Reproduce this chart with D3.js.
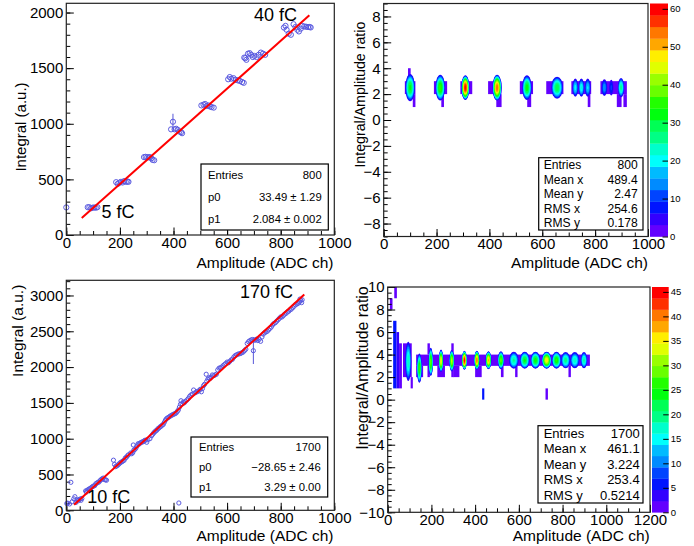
<!DOCTYPE html>
<html><head><meta charset="utf-8">
<script src="https://cdn.jsdelivr.net/npm/d3@7"></script>
<style>
body{margin:0;background:#fff}
svg{display:block;font-family:"Liberation Sans",Arial,Helvetica,sans-serif}
</style></head><body>
<svg id="c" width="694" height="546"></svg>
<script>
// ================= DATA =================
// Panel 1: Integral vs Amplitude (5 fC .. 40 fC)
const p1X = [0, 80,86,92,98,104,110,116, 186,192,198,204,210,216,222,228,232, 290,296,302,308,312,318,322,328,
  391,398,404,410,416,422,428,432, 504,512,518,524,530,536,542,550, 604,610,616,624,632,640,648,656,662,
  664,668,672,678,684,690,696,702,710,718,726,734,742, 812,818,822,830,838,848,855,862,868,875,880,888,895,902,908,912];
const p1Y = [248, 250,250,240,245,248,245,250, 475,460,470,478,472,485,478,480,478, 700,703,700,698,700,690,675,672,
  950,1018,950,955,945,930,925,915, 1165,1172,1178,1160,1165,1155,1150,1145, 1400,1420,1405,1410,1395,1390,1385,1375,1368,
  1595,1590,1575,1630,1635,1620,1600,1610,1600,1620,1640,1630,1620, 1865,1880,1845,1810,1800,1895,1870,1845,1830,1855,1880,1875,1872,1870,1870,1866];
const p1ErrX = [398];
const p1ErrLo = [945];
const p1ErrHi = [1090];
const p1FitX = [57.6, 907];
const p1FitY = [152.6, 1975];
const p1Stats = [["Entries","800"],["p0","33.49 \u00b1 1.29"],["p1","2.084 \u00b1 0.002"]];

// Panel 3: Integral vs Amplitude (10 fC .. 170 fC)
const p3X = [2,5,12,17,22,28,32,36,40,45,48,52,55,58,
  72,75,78,82,86,90,94,98,102, 106,110,114,118,122,126,130,134,138,142,146,150,
  176,180,184,188,192,196,200,204,208,212,216,220,224,228,232,240,244,248,250,
  252,256,260,264,268,272,276,280,284,288,292,296,300,304,312,
  318,322,326,330,334,338,342,346,350,354,358,362,
  366,370,374,378,382,386,390,394,398,402,406,410,
  414,418,420,422,426,428,432,436,440,444,
  450,455,460,465,470,475,480,485,490,495,500,
  504,508,512,516,522,524,528,532,536,540,545,550,555,560,
  565,570,575,580,585,590,595,600,605,610,615,620,
  625,630,635,640,645,650,655,660,665,670,
  675,680,685,690,695,698,702,706,710,715,
  720,725,730,735,740,745,750,755,760,765,770,
  775,780,785,790,795,800,805,810,815,820,825,830,835,840,845,850,
  855,860,865,870,875,880,878,872];
const p3Y = [95,100,88,391,120,160,190,110,145,135,150,158,140,165,
  270,255,280,290,300,305,320,330,340, 345,370,380,390,395,415,430,440,450,430,425,420,
  700,640,610,620,630,645,660,670,680,690,700,730,740,760,775,800,790,805,912,
  840,850,870,900,930,925,940,950,955,960,975,980,950,985,1000,
  1040,1060,1080,1095,1110,1120,1140,1150,1165,1175,1190,1200,
  1230,1260,1280,1290,1300,1310,1320,1330,1335,1345,1350,1360,
  1380,1400,102,1440,1480,1530,1490,1510,1500,1520,
  1540,1560,1590,1610,1620,1680,1640,1650,1660,1670,1690,
  1655,1700,1740,1760,1900,1800,1830,1850,1840,1860,1890,1880,1890,1900,
  1960,1985,1990,2000,2020,2035,2050,2070,2060,2080,2100,2110,
  2140,2160,2170,2180,2185,2190,2200,2210,2230,2250,
  2330,2355,2370,2380,2385,2229,2375,2380,2390,2370,
  2390,2360,2420,2460,2480,2490,2500,2520,2540,2560,2590,
  2610,2620,2640,2660,2680,2700,2700,2720,2740,2750,2770,2780,2800,2810,2830,2850,
  2870,2880,2890,2910,2930,2940,2900,2950];
const p3ErrX = [698];
const p3ErrLo = [2043];
const p3ErrHi = [2415];
const p3FitX = [29, 888];
const p3FitY = [78, 3015];
const p3Stats = [["Entries","1700"],["p0","\u221228.65 \u00b1 2.46"],["p1","3.29 \u00b1 0.00"]];

// Panel 2: ratio vs amplitude (blobs: centre x, centre y, peak count, half width, half height)
const b2X = [100, 214, 309, 429, 542, 656, 725, 748, 772, 835, 861, 898];
const b2Y = [2.5, 2.5, 2.5, 2.5, 2.5, 2.5, 2.5, 2.5, 2.5, 2.5, 2.5, 2.5];
const b2Peak = [32, 36, 60, 55, 33, 30, 20, 22, 19, 15, 10, 26];
const b2HW = [18, 18, 15, 17, 18, 22, 11, 11, 11, 11, 8, 12];
const b2HH = [1.05, 1.0, 0.95, 1.0, 0.95, 0.85, 0.7, 0.7, 0.7, 0.65, 0.6, 0.75];
// low-count bins: [x0, x1, y0, y1, count]
const c2Bins = [[80,120,2,3,1],[190,240,2,3,1],[290,335,2,3,1],[395,445,2,3,1],[515,565,2,3,1],[615,680,2,3,1],
  [710,785,2,3,1],[820,920,2,3,1],[92,102,3,4,1],[110,120,1,2,1],[218,228,1,2,1],[426,446,1,2,1],
  [543,558,1,2,1],[772,782,1,2,1],[882,900,1,2,1],[907,920,1,2,1]];
const p2Stats = [["Entries","800"],["Mean x","489.4"],["Mean y","2.47"],["RMS x","254.6"],["RMS y","0.178"]];
const z2Max = 61.4;
const z2Ticks = [0,10,20,30,40,50,60];

// Panel 4
const b4X = [94, 145, 197, 244, 293, 351, 408, 461, 518, 577, 627, 676, 727, 772, 814, 856, 898];
const b4Y = [3.4, 2.8, 3.35, 3.45, 3.45, 3.5, 3.5, 3.5, 3.5, 3.5, 3.5, 3.5, 3.5, 3.5, 3.5, 3.5, 3.5];
const b4Peak = [18, 27, 29, 36, 33, 45, 41, 38, 29, 19, 24, 25, 36, 26, 20, 18, 19];
const b4HW = [14, 11, 10, 10, 11, 11, 12, 13, 14, 22, 22, 22, 22, 21, 21, 21, 15];
const b4HH = [1.75, 1.3, 1.25, 1.0, 0.95, 0.85, 0.85, 0.8, 0.8, 0.75, 0.75, 0.75, 0.75, 0.75, 0.72, 0.72, 0.72];
const c4Bins = [[25,40,1,7,5.5],[40,52,1,6,3],[52,65,1,5,1],[70,110,2,5,1],[105,115,1,2,1],
  [30,42,9,10,1],[10,22,8,9,1],[130,925,3,4,1],
  [130,162,2,3,1],[227,262,2,3,1],[300,328,2,3,1],[400,430,2,3,1],[518,530,2,3,1],[583,594,2,3,1],[827,838,2,3,1],
  [182,193,4,5,1],[291,302,4,5,1],[182,193,2,3,1],[291,302,2,3,1],[432,442,0,1,5],[722,733,0,1,1]];
const p4Stats = [["Entries","1700"],["Mean x","461.1"],["Mean y","3.224"],["RMS x","253.4"],["RMS y","0.5214"]];
const z4Max = 46.0;
const z4Ticks = [0,5,10,15,20,25,30,35,40,45];

// axis ticks
const xTicks1000 = [0,200,400,600,800,1000];
const xTicks1200 = [0,200,400,600,800,1000,1200];
const yTicks1 = [0,500,1000,1500,2000];
const yTicks3 = [0,500,1000,1500,2000,2500,3000];
const yTicks2 = [-8,-6,-4,-2,0,2,4,6,8];
const yTicks4 = [-10,-8,-6,-4,-2,0,2,4,6,8,10];

// ================= DRAWING =================
const svg = d3.select('#c');
const pal = j => d3.hsl(280 - (Math.floor((j + 0.99) * 2.5) + 1) * 5.6, 1, 0.5).formatHex();
const range = (a, b, s) => d3.range(a, b + s / 2, s);

function axes(x, y, xMaj, xMin, yMaj, yMin, fs) {
  const yb = y.range()[0], xl = x.range()[0];
  const style = g => { g.select('.domain').remove();
    g.selectAll('text').attr('font-size', fs).attr('font-family', '"Liberation Sans",Arial,sans-serif').attr('fill', '#000');
    g.selectAll('line').attr('stroke', '#000'); };
  svg.append('g').attr('transform', `translate(0,${yb})`)
    .call(d3.axisBottom(x).tickValues(xMin).tickSize(-4).tickFormat('')).call(style);
  svg.append('g').attr('transform', `translate(0,${yb})`)
    .call(d3.axisBottom(x).tickValues(xMaj).tickSize(-7.5).tickPadding(2).tickFormat(d3.format('d'))).call(style);
  svg.append('g').attr('transform', `translate(${xl},0)`)
    .call(d3.axisLeft(y).tickValues(yMin).tickSize(-4).tickFormat('')).call(style);
  svg.append('g').attr('transform', `translate(${xl},0)`)
    .call(d3.axisLeft(y).tickValues(yMaj).tickSize(-7.5).tickPadding(3).tickFormat(d3.format('d'))).call(style);
}

function frame(x, y) {
  const [a, b] = x.range(), [c, d] = y.range();
  svg.append('rect').attr('x', a).attr('y', d).attr('width', b - a).attr('height', c - d)
    .attr('fill', 'none').attr('stroke', '#222').attr('stroke-width', 1.2);
}

function scatter(x, y, X, Y, r, eX, eLo, eHi) {
  const g = svg.append('g');
  g.selectAll('line.e').data(eX).join('line')
    .attr('x1', d => x(d)).attr('x2', d => x(d))
    .attr('y1', (d, i) => y(eLo[i])).attr('y2', (d, i) => y(eHi[i]))
    .attr('stroke', '#5656d8').attr('stroke-width', 1);
  g.selectAll('circle').data(X).join('circle')
    .attr('cx', d => x(d)).attr('cy', (d, i) => y(Y[i])).attr('r', r)
    .attr('fill', 'none').attr('stroke', '#5a5ae0').attr('stroke-width', 1);
}

function fitLine(x, y, FX, FY) {
  svg.append('path').attr('d', d3.line().x(d => x(d[0])).y(d => y(d[1]))(FX.map((v, i) => [v, FY[i]])))
    .attr('stroke', '#ff0000').attr('stroke-width', 2).attr('fill', 'none');
}

function statsBox(x0, y0, x1, y1, rows, fs, lx, rx) {
  svg.append('rect').attr('x', x0).attr('y', y0).attr('width', x1 - x0).attr('height', y1 - y0)
    .attr('fill', '#fff').attr('stroke', '#000').attr('stroke-width', 1.2);
  const h = (y1 - y0) / rows.length;
  rows.forEach((r, i) => {
    const cy = y0 + h * (i + 0.5);
    svg.append('text').attr('x', lx).attr('y', cy).attr('dy', '0.35em').attr('font-size', fs).text(r[0]);
    svg.append('text').attr('x', rx).attr('y', cy).attr('dy', '0.35em').attr('font-size', fs).attr('text-anchor', 'end').text(r[1]);
  });
}

function heat(x, y, bins, w, X, Y, P, HW, HH) {
  const clipId = 'clip' + Math.random().toString(36).slice(2);
  const [a, b] = x.range(), [c, d] = y.range();
  svg.append('clipPath').attr('id', clipId).append('rect').attr('x', a).attr('y', d).attr('width', b - a).attr('height', c - d);
  const g = svg.append('g').attr('clip-path', `url(#${clipId})`);
  g.selectAll('rect').data(bins).join('rect')
    .attr('x', e => x(e[0])).attr('width', e => x(e[1]) - x(e[0]))
    .attr('y', e => y(e[3])).attr('height', e => y(e[2]) - y(e[3]))
    .attr('fill', e => pal(Math.min(19, Math.floor(e[4] / w))));
  // draw level by level so that neighbouring blobs merge like a colour map
  const K = Math.min(19, Math.floor(d3.max(P) / w));
  for (let k = 1; k <= K; k++) {
    X.forEach((cx, i) => {
      if (k > Math.floor(P[i] / w)) return;
      const f = Math.max(0.13, Math.sqrt(Math.max(0, (P[i] - k * w) / (P[i] - w))));
      g.append('ellipse').attr('cx', x(cx)).attr('cy', y(Y[i]))
        .attr('rx', (x(HW[i]) - x(0)) * f).attr('ry', (y(0) - y(HH[i])) * f)
        .attr('fill', pal(k));
    });
  }
}

function colorBar(x0, x1, y0, y1, zMax, ticks) {
  const z = d3.scaleLinear([0, zMax], [y1, y0]);
  const w = zMax / 20;
  svg.append('g').selectAll('rect').data(d3.range(20)).join('rect')
    .attr('x', x0).attr('width', x1 - x0)
    .attr('y', j => z((j + 1) * w)).attr('height', j => z(j * w) - z((j + 1) * w) + 0.3)
    .attr('fill', j => pal(j));
  const g = svg.append('g').attr('transform', `translate(${x1},0)`)
    .call(d3.axisRight(z).tickValues(ticks).tickSize(-5.5).tickPadding(2).tickFormat(d3.format('d')));
  g.select('.domain').remove();
  g.selectAll('line').attr('stroke', '#000');
  g.selectAll('text').attr('font-size', 9.5).attr('font-family', '"Liberation Sans",Arial,sans-serif').attr('fill', '#000');
}

function text(t, x, y, fs, anchor, rot) {
  const e = svg.append('text').attr('font-size', fs).attr('text-anchor', anchor || 'start').text(t);
  if (rot) e.attr('transform', `translate(${x},${y}) rotate(-90)`); else e.attr('x', x).attr('y', y);
  return e;
}

// ---- Panel 1 ----
{
  const x = d3.scaleLinear([0, 1000], [66.3, 334.3]);
  const y = d3.scaleLinear([0, 2083], [235, 3.3]);
  axes(x, y, xTicks1000, range(0, 1000, 50), yTicks1, range(0, 2000, 100), 15);
  scatter(x, y, p1X, p1Y, 2.6, p1ErrX, p1ErrLo, p1ErrHi);
  fitLine(x, y, p1FitX, p1FitY);
  frame(x, y);
  statsBox(201, 164, 328.3, 230, p1Stats, 11.3, 208, 321.7);
  text('40 fC', 254, 20.5, 18);
  text('5 fC', 101.5, 218, 18);
  text('Integral (a.u.)', 25.5, 127, 15, 'middle', true);
  text('Amplitude (ADC ch)', 333.5, 267.5, 15.5, 'end');
}
// ---- Panel 2 ----
{
  const x = d3.scaleLinear([0, 1000], [383.7, 648]);
  const y = d3.scaleLinear([-9, 9], [236.5, 3.5]);
  heat(x, y, c2Bins, z2Max / 20, b2X, b2Y, b2Peak, b2HW, b2HH);
  axes(x, y, xTicks1000, range(0, 1000, 50), yTicks2, range(-9, 9, 0.5), 15);
  frame(x, y);
  colorBar(650, 668, 3.5, 236.5, z2Max, z2Ticks);
  statsBox(538.7, 157.7, 643, 230, p2Stats, 12.1, 543.7, 637.7);
  text('Integral/Amplitude ratio', 365, 21.7, 14.2, 'end', true);
  text('Amplitude (ADC ch)', 648, 267.5, 15.5, 'end');
}
// ---- Panel 3 ----
{
  const x = d3.scaleLinear([0, 1000], [66.3, 334.3]);
  const y = d3.scaleLinear([0, 3212], [510.3, 280.3]);
  axes(x, y, xTicks1000, range(0, 1000, 50), yTicks3, range(0, 3200, 100), 15);
  scatter(x, y, p3X, p3Y, 2.1, p3ErrX, p3ErrLo, p3ErrHi);
  fitLine(x, y, p3FitX, p3FitY);
  frame(x, y);
  statsBox(191, 437, 327.7, 497, p3Stats, 11.3, 199, 320.7);
  text('170 fC', 240, 298, 18);
  text('10 fC', 87.3, 503, 18);
  text('Integral (a.u.)', 23, 284.7, 15.5, 'end', true);
  text('Amplitude (ADC ch)', 333.5, 541, 15.5, 'end');
}
// ---- Panel 4 ----
{
  const x = d3.scaleLinear([0, 1200], [387.7, 650]);
  const y = d3.scaleLinear([-10, 10], [512.3, 287]);
  heat(x, y, c4Bins, z4Max / 20, b4X, b4Y, b4Peak, b4HW, b4HH);
  axes(x, y, xTicks1200, range(0, 1200, 50), yTicks4, range(-10, 10, 0.5), 15);
  frame(x, y);
  colorBar(652, 668.7, 287, 512.3, z4Max, z4Ticks);
  statsBox(538, 425.7, 643, 503, p4Stats, 13, 543.7, 639.7);
  text('Integral/Amplitude ratio', 368, 286.3, 15.9, 'end', true);
  text('Amplitude (ADC ch)', 649.7, 541, 15.5, 'end');
}
</script></body></html>
